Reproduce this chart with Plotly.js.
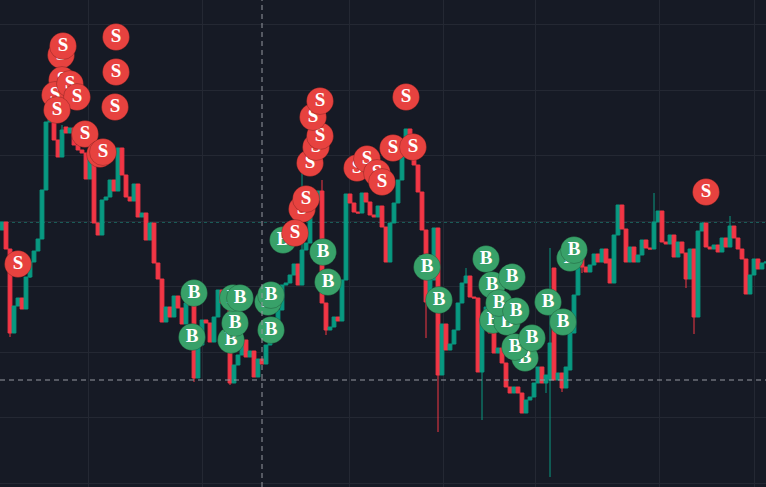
<!DOCTYPE html>
<html>
<head>
<meta charset="utf-8">
<script src="https://cdn.plot.ly/plotly-3.0.1.min.js"></script>
<style>
  html, body { margin: 0; padding: 0; background: #161a25; }
  #chart { width: 766px; height: 487px; }
</style>
</head>
<body>
<div id="chart"></div>
<script>
// ---- data (price units) ----
const openP = [270,278,251,167,194,202,191,223,238,249, 261,310,378,382,360,343,373,367,372,355, 350,347,321,347,277,265,300,303,320,309, 352,325,303,299,316,283,287,260,277,237, 221,178,193,183,204,192,176,197,195,122, 155,180,177,158,183,210,197,203,117,135, 145,160,143,149,123,141,136,155,160,175, 190,215,217,225,236,215,250,257,305,300, 309,197,170,173,183,179,220,306,297,288, 287,307,298,285,283,294,273,238,277,297, 320,343,371,360,335,308,270,198,220,272, 125,176,150,156,170,197,217,224,203,202, 128,182,193,167,147,152,137,113,107,113, 107,87,100,103,117,133,117,120,232,120, 127,112,130,167,205,242,233,228,235,246, 238,251,241,217,265,295,271,238,253,238, 245,260,252,251,278,289,258,256,265,243, 258,247,221,251,183,269,277,253,251,255, 248,262,253,274,262,251,241,206,225,241, 231,237];
const closeP = [278,251,167,194,202,191,223,238,249,261, 310,378,382,360,343,370,367,372,355,350, 347,321,347,277,265,300,303,320,309,352, 325,303,299,316,283,287,260,277,237,221, 178,193,183,204,192,176,197,195,122,155, 180,177,158,183,210,197,203,117,135,145, 160,143,149,123,141,136,155,160,175,190, 215,217,225,236,215,250,257,305,300,309, 197,170,173,183,179,220,306,297,288,287, 307,298,285,283,294,273,238,277,297,320, 343,371,360,335,308,270,198,220,272,125, 176,150,156,170,197,217,224,203,202,128, 182,193,167,147,152,137,113,107,113,107, 87,100,103,117,133,117,125,157,120,127, 112,133,167,205,240,233,228,235,246,238, 251,237,217,265,295,271,238,253,238,245, 260,252,251,278,289,258,256,265,243,258, 247,221,251,183,269,277,253,251,255,248, 262,253,274,262,251,241,206,225,241,231, 237,238];
const highP = [278,278,251,194,202,202,223,238,249,261, 310,378,386,382,360,375,373,372,372,355, 350,347,347,350,277,300,303,320,320,352, 352,325,303,316,316,287,287,277,277,237, 221,193,193,204,204,192,197,197,195,155, 180,180,177,183,210,210,203,203,135,145, 160,160,149,149,141,141,155,160,175,190, 215,217,225,236,236,330,257,305,305,309, 320,197,173,183,183,220,306,306,297,288, 307,307,298,285,294,294,273,277,297,320, 343,371,371,360,335,308,270,220,272,272, 176,176,156,170,197,217,232,224,203,202, 182,193,193,167,152,152,137,113,113,113, 107,100,103,117,133,133,125,252,232,127, 127,133,167,205,240,242,233,235,246,246, 251,251,241,265,295,295,271,253,253,245, 260,260,252,307,289,289,258,265,265,258, 258,247,251,251,269,277,277,253,255,255, 262,262,284,274,262,251,241,225,241,241, 237,238];
const lowP = [270,251,163,167,194,191,191,222,238,249, 261,310,378,360,343,343,367,367,355,350, 347,321,321,277,265,265,300,303,309,309, 325,303,299,299,283,283,260,260,237,221, 178,178,183,183,192,176,176,195,118,122, 155,177,158,158,183,197,197,115,117,135, 145,143,143,123,123,136,136,155,160,175, 190,215,217,225,215,215,250,257,300,300, 197,165,170,173,179,179,220,297,288,287, 287,298,285,283,283,273,238,238,277,297, 320,343,360,335,308,270,162,198,220,68, 125,150,150,156,170,197,217,203,202,128, 80,182,167,147,147,137,113,107,107,107, 87,87,100,103,117,117,107,23,120,120, 108,112,130,167,205,227,228,228,235,238, 238,237,217,217,265,271,238,238,238,238, 245,252,251,251,278,258,256,256,243,243, 247,212,221,166,183,269,253,251,251,248, 248,253,253,262,251,241,206,206,225,231, 231,237];
const candleIdx = openP.map((_, i) => i);

// Sell signals (candle position, price)
const sellX = [14.75,15.25,28.5,28.5,28.25,15,13.25,17,18.75,13.75,20.75,24.5,25.25,4, 77,78.5,79.5,77.75,79.5,75,76,73.25, 88.75,91.25,93.75,95,97.75,102.75,101,176];
const sellY = [445,454,463,428,393,420,405,416,403,390,366,346,348,236, 337,353,364,383,399,291,301,267, 332,341,327,318,352,353,403,308];
// Buy signals
const buyX = [47.5,48,57.25,58.25,57.75,59.5,66.5,67.25,67.25,70.25,80.25,81.5,106.25,109.25, 121,122.5,122.75,126.25,124.25,127.5,128.5,130.75,128.25,132.5,136.5,140.25,142,143];
const buyY = [163,207,160,177,202,202,198,205,170,260,248,218,233,200, 241,215,180,178,197,223,189,142,153,162,198,178,242,250];

// Grid positions and reference lines
const timeGrid = [21.5,50,86.75,110.25,133.25,164.25,188];
const crossIdx = 65, crossPrice = 120, refPrice = 278;

const UP = '#089981', DOWN = '#f23645';
const SELL = '#e7423f', BUY = '#38a169';

const traces = [{
  type: 'candlestick', x: candleIdx,
  open: openP, high: highP, low: lowP, close: closeP,
  increasing: { line: { color: UP, width: 1 }, fillcolor: UP },
  decreasing: { line: { color: DOWN, width: 1 }, fillcolor: DOWN },
  whiskerwidth: 0, hoverinfo: 'skip', showlegend: false
}];

function sig(x, y, label, color) {
  return {
    type: 'scatter', mode: 'markers+text', x: [x], y: [y], text: [label],
    textposition: 'middle center',
    textfont: { family: 'Liberation Serif, DejaVu Serif, serif', size: 19, color: '#ffffff', weight: 'bold' },
    marker: { size: 27, color: color, line: { width: 1, color: 'rgba(0,0,0,0.2)' } },
    hoverinfo: 'skip', showlegend: false, cliponaxis: false
  };
}
buyX.forEach((x, i) => traces.push(sig(x, buyY[i], 'B', BUY)));
sellX.forEach((x, i) => traces.push(sig(x, sellY[i], 'S', SELL)));

const layout = {
  width: 766, height: 487,
  margin: { l: 0, r: 0, t: 0, b: 0, pad: 0 },
  paper_bgcolor: '#161a25', plot_bgcolor: '#161a25',
  showlegend: false,
  boxgap: 0.05, boxgroupgap: 0,
  xaxis: {
    range: [-0.5, 191], rangeslider: { visible: false },
    tickmode: 'array', tickvals: timeGrid, showticklabels: false, ticks: '',
    showgrid: true, gridcolor: '#242833', gridwidth: 1, zeroline: false, showline: false
  },
  yaxis: {
    range: [13, 500], tick0: 17, dtick: 65.43, showticklabels: false, ticks: '',
    showgrid: true, gridcolor: '#242833', gridwidth: 1, zeroline: false, showline: false
  },
  shapes: [
    { type: 'line', xref: 'paper', x0: 0, x1: 1, yref: 'y', y0: refPrice, y1: refPrice,
      line: { color: '#1f9c8a', width: 1, dash: 'dot' }, layer: 'below' },
    { type: 'line', xref: 'x', x0: crossIdx, x1: crossIdx, yref: 'paper', y0: 0, y1: 1,
      line: { color: '#9598a1', width: 1, dash: '5px,4px' }, layer: 'above' },
    { type: 'line', xref: 'paper', x0: 0, x1: 1, yref: 'y', y0: crossPrice, y1: crossPrice,
      line: { color: '#9598a1', width: 1, dash: '5px,4px' }, layer: 'above' }
  ]
};

Plotly.newPlot('chart', traces, layout, { staticPlot: true, displayModeBar: false });
</script>
</body>
</html>
